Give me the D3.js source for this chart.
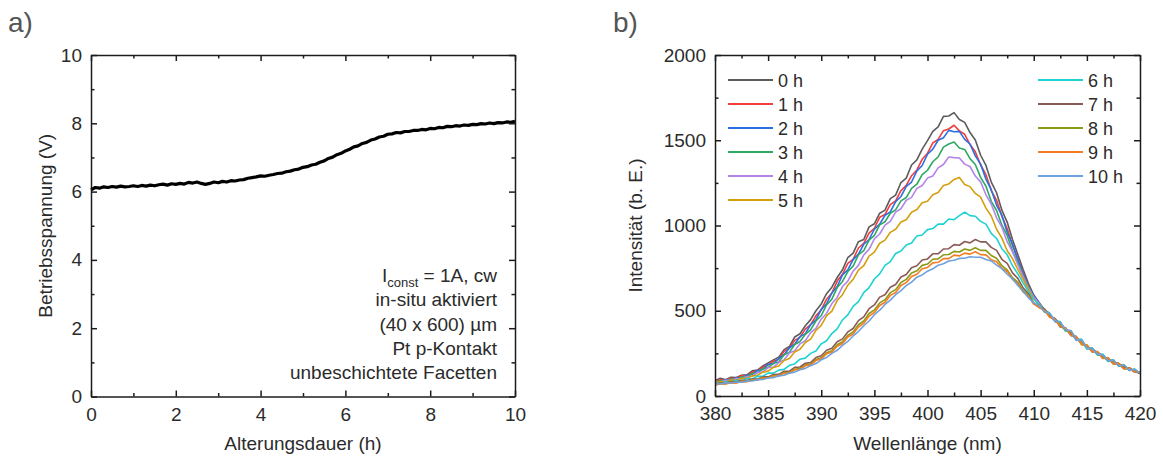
<!DOCTYPE html>
<html>
<head>
<meta charset="utf-8">
<script src="https://cdn.jsdelivr.net/npm/d3@7"></script>
<style>
  body { margin: 0; background: #fff; }
  svg { display: block; font-family: "Liberation Sans", Arial, sans-serif; }
</style>
</head>
<body>
<svg id="chart" width="1163" height="458"></svg>
<script>
// ---------- Panel a): operating voltage during ageing (I = 1 A, cw) ----------
const timeStart = 0, timeStep = 0.1;           // hours, one sample per 6 min
const voltage = [
  6.05,6.12,6.10,6.14,6.12,6.15,6.13,6.16,6.14,6.15,
  6.17,6.15,6.18,6.16,6.19,6.17,6.20,6.22,6.19,6.23,
  6.21,6.24,6.22,6.27,6.25,6.28,6.24,6.21,6.24,6.28,
  6.26,6.30,6.28,6.32,6.31,6.34,6.35,6.39,6.41,6.43,
  6.46,6.45,6.48,6.50,6.53,6.54,6.58,6.60,6.64,6.66,
  6.71,6.73,6.78,6.80,6.86,6.90,6.97,7.01,7.08,7.12,
  7.19,7.24,7.31,7.34,7.41,7.44,7.51,7.54,7.60,7.62,
  7.68,7.69,7.73,7.72,7.76,7.76,7.79,7.79,7.82,7.81,
  7.85,7.84,7.88,7.87,7.91,7.90,7.93,7.92,7.95,7.94,
  7.97,7.96,7.99,7.98,8.01,7.99,8.02,8.01,8.04,8.03,
  8.06
];
const timeTicks = [0, 2, 4, 6, 8, 10];
const timeMinor = [1, 3, 5, 7, 9];
const voltTicks = [0, 2, 4, 6, 8, 10];
const voltMinor = [1, 3, 5, 7, 9];
const conditions = ["I_const = 1A, cw", "in-situ aktiviert", "(40 x 600) µm", "Pt p-Kontakt", "unbeschichtete Facetten"];

// ---------- Panel b): emission spectra after each ageing hour ----------
const wlStart = 380, wlStep = 0.5;             // nm
const spectrumLabels = ["0 h","1 h","2 h","3 h","4 h","5 h","6 h","7 h","8 h","9 h","10 h"];
const spectrumColors = ["#5c5c5c","#f23d3d","#2a6fe6","#2fa863","#b485ea","#d4a00e",
                        "#1ed2d2","#8a5a56","#8c9a16","#f47c22","#6ea2de"];
const spec0h = [90,104,95,110,108,122,124,148,152,176,194,212,228,272,290,346,365,412,448,500,540,600,638,695,740,812,838,905,918,992,1010,1072,1090,1158,1178,1252,1278,1355,1385,1448,1498,1552,1578,1640,1642,1662,1622,1605,1545,1502,1412,1352,1255,1192,1090,1020,918,830,742,660,592,548,506,484,436,432,380,380,332,324,282,280,244,240,208,208,178,180,152,154,132];
const spec1h = [82,95,94,104,102,120,118,140,148,170,182,204,216,262,280,326,345,392,418,470,505,568,604,674,714,778,802,868,895,955,984,1048,1065,1122,1145,1204,1235,1292,1326,1388,1424,1484,1505,1556,1566,1588,1555,1535,1475,1432,1355,1298,1205,1148,1055,982,885,805,720,645,582,540,508,468,444,416,394,360,344,306,294,262,256,224,220,192,186,162,160,142,134];
const spec2h = [84,85,96,92,106,106,122,126,150,156,186,190,220,242,282,304,348,366,418,446,508,540,604,642,710,740,800,832,890,918,978,1008,1060,1080,1140,1170,1230,1255,1320,1352,1418,1448,1500,1515,1558,1550,1552,1505,1478,1408,1360,1272,1210,1120,1060,960,890,800,716,640,588,546,500,474,450,404,400,354,350,304,298,258,258,222,222,188,190,160,164,140,138];
const spec3h = [78,90,88,100,96,112,112,132,136,160,168,192,200,242,256,302,320,362,388,440,472,534,568,636,672,730,762,828,852,914,942,1004,1022,1072,1092,1144,1164,1218,1242,1298,1324,1374,1402,1460,1478,1490,1455,1446,1392,1358,1282,1230,1142,1088,1002,942,852,782,706,636,578,536,510,464,448,420,384,372,330,328,276,282,240,242,202,210,174,180,150,156,130];
const spec4h = [82,80,92,90,102,100,114,116,138,142,166,170,196,212,252,266,306,324,372,396,452,484,542,578,642,674,732,766,828,860,922,950,1002,1024,1078,1098,1148,1165,1218,1235,1278,1290,1338,1358,1402,1398,1396,1360,1346,1290,1256,1180,1126,1045,990,905,846,770,700,632,580,544,496,480,438,428,390,376,326,330,284,270,250,228,212,202,184,170,158,150,136];
const spec5h = [72,85,82,94,92,104,102,118,122,140,146,168,176,208,220,258,274,314,334,385,414,470,498,560,594,650,684,738,764,820,844,896,914,960,978,1020,1034,1078,1094,1134,1142,1180,1194,1234,1244,1270,1282,1240,1228,1188,1166,1102,1056,978,926,852,806,742,684,624,572,530,504,470,452,410,398,360,348,300,300,260,256,222,224,186,192,158,166,140,140];
const spec6h = [74,73,83,80,92,88,102,100,116,116,134,134,152,156,180,188,216,222,250,264,306,324,366,394,446,476,526,554,606,636,686,716,766,788,836,850,886,898,938,944,976,982,1008,1008,1038,1034,1058,1078,1058,1054,1024,1008,954,924,864,828,764,716,664,612,566,538,502,486,440,436,380,382,330,334,278,282,242,246,204,212,176,182,150,158,132];
const spec7h = [70,76,76,85,83,91,90,99,100,112,112,126,127,145,146,168,170,192,196,226,236,268,280,318,335,376,396,442,464,512,534,580,594,638,654,698,712,752,764,798,804,834,834,862,864,888,884,906,898,918,904,904,872,854,802,778,722,690,634,600,544,524,510,466,454,418,392,370,336,320,290,268,258,232,216,200,190,168,164,144,136];
const spec8h = [66,74,72,80,78,87,86,95,96,108,107,120,121,137,139,157,162,181,186,214,224,254,266,301,318,356,376,418,440,484,505,546,565,606,624,666,684,722,734,766,774,802,804,828,830,848,845,862,854,870,854,854,824,808,764,740,694,668,620,590,540,536,492,478,446,422,386,378,334,318,288,272,248,236,210,206,182,178,156,152,134];
const spec9h = [63,72,70,78,76,85,84,93,94,106,105,118,117,133,135,153,157,177,182,208,218,248,258,292,308,346,364,404,426,468,490,531,550,590,607,648,665,701,714,746,754,781,784,806,806,826,822,838,832,846,829,828,799,788,749,730,684,658,609,586,540,518,504,462,450,408,396,356,346,306,296,262,260,220,222,190,190,160,164,142,138];
const spec10h = [72,70,77,76,82,81,88,88,96,97,106,108,118,122,134,140,154,162,178,190,212,226,250,268,297,320,352,378,412,440,477,503,537,562,594,618,647,668,697,710,732,746,767,776,792,796,807,808,817,814,814,800,792,768,747,714,687,648,614,576,547,530,496,484,442,432,388,384,328,328,282,278,246,240,208,210,176,182,152,156,134];
const spectra = [spec0h, spec1h, spec2h, spec3h, spec4h, spec5h, spec6h, spec7h, spec8h, spec9h, spec10h];
const wlTicks = [380, 385, 390, 395, 400, 405, 410, 415, 420];
const wlMinor = [382.5, 387.5, 392.5, 397.5, 402.5, 407.5, 412.5, 417.5];
const intTicks = [0, 500, 1000, 1500, 2000];
const intMinor = [250, 750, 1250, 1750];

// ---------- drawing ----------
const svg = d3.select("#chart");
svg.append("rect").attr("width", 1163).attr("height", 458).attr("fill", "#fff");

const TEXT = "#2b2b2b";
const AXIS = "#1c1c1c";

function styleAxis(g, fontSize) {
  g.attr("font-family", null).attr("font-size", null);
  g.select(".domain").attr("stroke", AXIS).attr("stroke-width", 1.5);
  g.selectAll(".tick line").attr("stroke", AXIS).attr("stroke-width", 1.5);
  g.selectAll(".tick text").attr("fill", TEXT).style("font-size", fontSize + "px");
}

// Boxed frame with inward ticks on all four sides; labels on bottom and left.
function frame(g, x, y, xMaj, xMin, yMaj, yMin, xFmt, yFmt) {
  const [xl, xr] = x.range();
  const [yb, yt] = y.range();
  const major = 6, minor = 3.5;
  const put = (axis, tx, ty) => {
    const a = g.append("g").attr("transform", `translate(${tx},${ty})`).call(axis);
    styleAxis(a, 19);
    return a;
  };
  put(d3.axisBottom(x).tickValues(xMaj).tickSizeInner(-major).tickSizeOuter(0).tickPadding(11).tickFormat(xFmt), 0, yb);
  put(d3.axisBottom(x).tickValues(xMin).tickSizeInner(-minor).tickSizeOuter(0).tickFormat(""), 0, yb).select(".domain").remove();
  put(d3.axisTop(x).tickValues(xMaj).tickSizeInner(-major).tickSizeOuter(0).tickFormat(""), 0, yt);
  put(d3.axisTop(x).tickValues(xMin).tickSizeInner(-minor).tickSizeOuter(0).tickFormat(""), 0, yt).select(".domain").remove();
  put(d3.axisLeft(y).tickValues(yMaj).tickSizeInner(-major).tickSizeOuter(0).tickPadding(9).tickFormat(yFmt), xl, 0);
  put(d3.axisLeft(y).tickValues(yMin).tickSizeInner(-minor).tickSizeOuter(0).tickFormat(""), xl, 0).select(".domain").remove();
  put(d3.axisRight(y).tickValues(yMaj).tickSizeInner(-major).tickSizeOuter(0).tickFormat(""), xr, 0);
  put(d3.axisRight(y).tickValues(yMin).tickSizeInner(-minor).tickSizeOuter(0).tickFormat(""), xr, 0).select(".domain").remove();
}

function panelLetter(txt, x, y) {
  svg.append("text").attr("x", x).attr("y", y).attr("fill", "#555")
    .style("font-size", "28px").text(txt);
}

// ---- panel a ----
const xa = d3.scaleLinear().domain([0, 10]).range([91, 515]);
const ya = d3.scaleLinear().domain([0, 10]).range([396.5, 55]);
const ga = svg.append("g");

ga.append("path")
  .datum(voltage)
  .attr("fill", "none")
  .attr("stroke", "#000")
  .attr("stroke-width", 3.2)
  .attr("stroke-linejoin", "round")
  .attr("d", d3.line().x((d, i) => xa(timeStart + i * timeStep)).y(d => ya(d)));

frame(ga, xa, ya, timeTicks, timeMinor, voltTicks, voltMinor, d3.format("d"), d3.format("d"));

ga.append("text").attr("x", (xa.range()[0] + xa.range()[1]) / 2).attr("y", 450)
  .attr("text-anchor", "middle").attr("fill", TEXT).style("font-size", "19px")
  .text("Alterungsdauer (h)");
ga.append("text").attr("transform", `translate(52,${(ya.range()[0] + ya.range()[1]) / 2}) rotate(-90)`)
  .attr("text-anchor", "middle").attr("fill", TEXT).style("font-size", "19px")
  .text("Betriebsspannung (V)");

const noteY = [282, 306, 331, 355, 379];
conditions.forEach((line, i) => {
  const t = ga.append("text").attr("x", 497).attr("y", noteY[i])
    .attr("text-anchor", "end").attr("fill", TEXT).style("font-size", "19px");
  if (line.startsWith("I_const")) {
    t.append("tspan").text("I");
    t.append("tspan").attr("dy", 5).style("font-size", "13px").text("const");
    t.append("tspan").attr("dy", -5).text(line.slice(7));
  } else {
    t.text(line);
  }
});
panelLetter("a)", 8, 32);

// ---- panel b ----
const xb = d3.scaleLinear().domain([380, 420]).range([715, 1140]);
const yb = d3.scaleLinear().domain([0, 2000]).range([396, 55]);
const gb = svg.append("g");

svg.append("clipPath").attr("id", "plotB").append("rect")
  .attr("x", 715).attr("y", 55).attr("width", 425).attr("height", 341);

const specLine = d3.line().x((d, i) => xb(wlStart + i * wlStep)).y(d => yb(d));
gb.append("g").attr("clip-path", "url(#plotB)")
  .selectAll("path")
  .data(spectra)
  .join("path")
  .attr("fill", "none")
  .attr("stroke", (d, i) => spectrumColors[i])
  .attr("stroke-width", 1.6)
  .attr("stroke-linejoin", "round")
  .attr("d", specLine);

frame(gb, xb, yb, wlTicks, wlMinor, intTicks, intMinor, d3.format("d"), d3.format("d"));

gb.append("text").attr("x", (xb.range()[0] + xb.range()[1]) / 2).attr("y", 450)
  .attr("text-anchor", "middle").attr("fill", TEXT).style("font-size", "19px")
  .text("Wellenlänge (nm)");
gb.append("text").attr("transform", `translate(642,${(yb.range()[0] + yb.range()[1]) / 2}) rotate(-90)`)
  .attr("text-anchor", "middle").attr("fill", TEXT).style("font-size", "19px")
  .text("Intensität (b. E.)");

// legend: two columns (0–5 h, 6–10 h)
const legend = gb.append("g");
spectrumLabels.forEach((lab, i) => {
  const col = i < 6 ? 0 : 1;
  const row = col === 0 ? i : i - 6;
  const x0 = col === 0 ? 728 : 1038;
  const yy = 80 + row * 24;
  legend.append("line").attr("x1", x0).attr("x2", x0 + 45).attr("y1", yy).attr("y2", yy)
    .attr("stroke", spectrumColors[i]).attr("stroke-width", 2);
  legend.append("text").attr("x", x0 + 50).attr("y", yy + 6.5)
    .attr("fill", TEXT).style("font-size", "18px").text(lab);
});
panelLetter("b)", 613, 32);
</script>
</body>
</html>
